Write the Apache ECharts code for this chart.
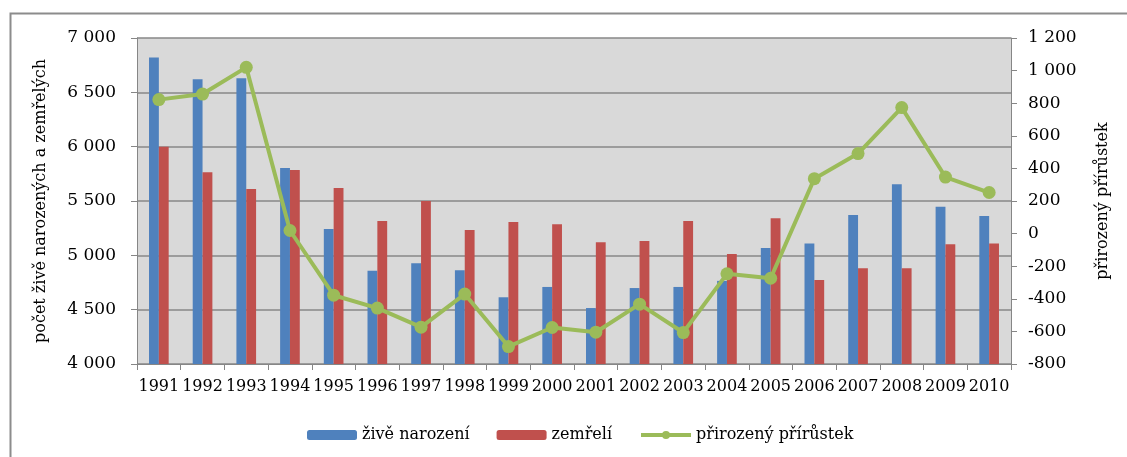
<!DOCTYPE html>
<html>
<head>
<meta charset="utf-8">
<script src="https://cdn.jsdelivr.net/npm/echarts@6/dist/echarts.min.js"></script>
<style>html,body{margin:0;padding:0;background:#fff}#c{width:1127px;height:457px}</style>
</head>
<body>
<div id="c"></div>
<script>
const years = ['1991','1992','1993','1994','1995','1996','1997','1998','1999','2000','2001','2002','2003','2004','2005','2006','2007','2008','2009','2010'];
const births = [6820,6620,6630,5804,5242,4859,4926,4862,4614,4709,4515,4699,4709,4765,5067,5110,5371,5653,5448,5362];
const deaths = [6000,5764,5610,5785,5620,5316,5500,5233,5307,5285,5120,5132,5316,5012,5341,4773,4880,4880,5101,5110];
const increase = [822,856,1020,19,-378,-457,-574,-371,-693,-576,-605,-433,-607,-247,-274,337,491,773,347,252];
const leftTicks = {min:4000, max:7000, interval:500};
const rightTicks = {min:-800, max:1200, interval:200};

const FONT = 'DejaVu Serif';
const fmt = v => { const s = String(Math.abs(v)); const t = s.length > 3 ? s.slice(0, s.length-3) + ' ' + s.slice(-3) : s; return (v < 0 ? '-' : '') + t; };
const chart = echarts.init(document.getElementById('c'));
chart.setOption({
  animation:false,
  textStyle:{fontFamily:FONT},
  graphic:[{type:'rect', left:8, top:11, shape:{width:1200, height:500}, style:{fill:'none', stroke:'#8c8c8c', lineWidth:2}, z:-10}],
  grid:{left:137, right:116, top:38, bottom:93, show:true, backgroundColor:'#D9D9D9', borderWidth:0},
  legend:{
    bottom:9, left:302, itemWidth:50, itemHeight:10, itemGap:27,
    textStyle:{fontFamily:FONT, fontSize:16, color:'#000'},
    data:[{name:'živě narození'},{name:'zemřelí'},{name:'přirozený přírůstek', lineStyle:{width:4}}]
  },
  xAxis:{
    type:'category', data:years, boundaryGap:true,
    axisLine:{onZero:false, lineStyle:{color:'#868686'}},
    axisTick:{show:true, length:6, lineStyle:{color:'#868686'}},
    axisLabel:{color:'#000', fontSize:16, fontFamily:FONT, interval:0, margin:15}
  },
  yAxis:[{
    type:'value', min:leftTicks.min, max:leftTicks.max, interval:leftTicks.interval,
    name:'počet živě narozených a zemřelých', nameLocation:'middle', nameRotate:90, nameGap:88,
    nameTextStyle:{color:'#000', fontSize:16, fontFamily:FONT},
    axisLine:{show:true, lineStyle:{color:'#868686'}},
    axisTick:{show:true, length:6, lineStyle:{color:'#868686'}},
    axisLabel:{color:'#000', fontSize:17, fontFamily:FONT, formatter:fmt, margin:21},
    splitLine:{lineStyle:{color:'#878787', width:1.5}}
  },{
    type:'value', position:'right', min:rightTicks.min, max:rightTicks.max, interval:rightTicks.interval,
    name:'přirozený přírůstek', nameLocation:'middle', nameRotate:90, nameGap:84,
    nameTextStyle:{color:'#000', fontSize:16, fontFamily:FONT},
    axisLine:{show:true, lineStyle:{color:'#868686'}},
    axisTick:{show:true, length:6, lineStyle:{color:'#868686'}},
    axisLabel:{color:'#000', fontSize:17, fontFamily:FONT, formatter:fmt, margin:17},
    splitLine:{show:false}
  }],
  series:[
    {name:'živě narození', type:'bar', data:births, yAxisIndex:0, barGap:'0%', barCategoryGap:'55%',
     itemStyle:{color:'#4F81BD'}},
    {name:'zemřelí', type:'bar', data:deaths, yAxisIndex:0,
     itemStyle:{color:'#C0504D'}},
    {name:'přirozený přírůstek', type:'line', data:increase, yAxisIndex:1,
     symbol:'circle', symbolSize:13, lineStyle:{color:'#9BBB59', width:4},
     itemStyle:{color:'#9BBB59'}, z:5}
  ]
});
</script>
</body>
</html>
